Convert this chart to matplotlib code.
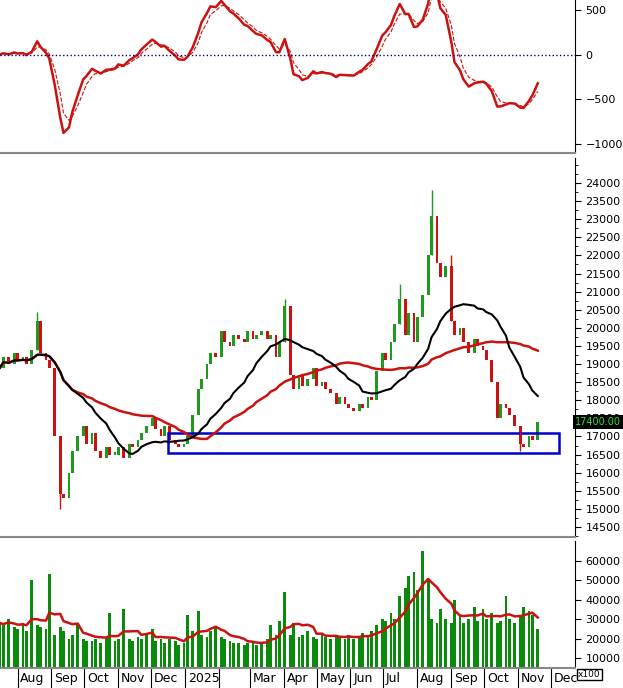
import numpy as np, pandas as pd
import matplotlib
matplotlib.use("Agg")
import matplotlib.pyplot as plt
import matplotlib.dates as mdates
import matplotlib.transforms as mtr
from matplotlib.patches import Rectangle

closes = [18900,19200,19000,19300,19100, 19200,19000,19400,20200,19300,
 19100,18900,17000,15400,15300, 16000,16600,17000,17300,16800,
 17100,16600,16400,16700,16500, 16500,16700,16400,16800,16700,
 16900,17100,17300,17500,17200, 17000,17300,16900,16800,16700,
 16800,17000,17600,18300,18600, 19000,19300,19200,19900,19600,
 19500,19800,19700,19600,19900, 19700,19800,19900,19700,19800,
 19200,19600,20600,18700,18300, 18700,18400,18600,18900,18400,
 18500,18300,18200,17900,18100, 17900,17800,17700,17900,17800,
 18100,18000,18800,19300,19100, 19600,20100,20800,19800,20400,
 19600,20300,20900,22000,23100, 21800,21400,21700,20200,19800,
 20000,19600,19300,19700,19500, 19400,19100,18500,17500,17900,
 17800,17600,17300,16800,16700, 17000,16900,17400]
spike_idx = [8, 13, 62, 87, 94, 98, 113]
spike_hi = [20450, 15000, 20800, 21200, 23800, 22000, 16600]
volumes = [28000,27000,30000,26000,25000,28000,24000,50000,27000,26000,
 25000,53000,22000,26000,24000,20000,22000,27000,20000,19000,
 19000,20000,18000,21000,33000,19000,20000,35000,20000,19000,
 21000,20000,22000,25000,19000,20000,18000,20000,19000,17000,
 18000,32000,24000,34000,22000,21000,24000,26000,21000,20000,
 19000,18000,18000,17000,18000,19000,17000,18000,20000,27000,
 22000,29000,44000,22000,28000,21000,22000,24000,21000,20000,
 22000,21000,20000,22000,21000,20000,22000,20000,21000,23000,
 22000,24000,27000,30000,29000,33000,30000,42000,46000,52000,
 54000,45000,65000,50000,30000,28000,35000,30000,28000,40000,
 32000,28000,30000,36000,29000,35000,30000,33000,28000,29000,
 42000,30000,28000,31000,36000,34000,32000,25000]
month_labels = ["Aug","Sep","Oct","Nov","Dec","2025","","Mar","Apr","May","Jun","Jul","Aug","Sep","Oct","Nov","Dec"]

n = len(closes)
dates = pd.bdate_range("2024-07-16", periods=n, freq="3B")
s = pd.Series(closes, index=dates, dtype=float)
opens = s.shift(1).fillna(s.iloc[0])
ma_fast = s.rolling(17, min_periods=1).mean()
ma_slow = s.rolling(34, min_periods=1).mean()
macd = (s.ewm(span=5).mean() - s.ewm(span=10).mean())
sig = macd.ewm(span=3).mean()
vol = pd.Series(volumes, index=dates, dtype=float)
vma = vol.rolling(7, min_periods=1).mean()

GREEN = "#1f9a1f"; RED = "#cc1111"
fig = plt.figure(figsize=(6.23, 6.88), dpi=100)
L, W = 0.0, 575/623
ax1 = fig.add_axes([L, 1-153/688, W, 153/688])
ax2 = fig.add_axes([L, 1-537/688, W, (537-158)/688])
ax3 = fig.add_axes([L, 1-668/688, W, (668-541)/688])
xmin, xmax = pd.Timestamp("2024-07-16"), pd.Timestamp("2025-12-23")
for ax in (ax1, ax2, ax3):
    ax.set_xlim(xmin, xmax)
    ax.yaxis.tick_right()
    ax.tick_params(axis="y", labelsize=8, direction="out", length=4)
    for sp in ("left", "top"):
        ax.spines[sp].set_visible(False)
    ax.spines["bottom"].set_color("#888888"); ax.spines["bottom"].set_linewidth(1.5)

ax1.plot(dates, macd, color=RED, lw=1.8)
ax1.plot(dates, sig, color=RED, lw=0.8, ls="--")
ax1.axhline(0, color="#000080", ls=":", lw=1)
ax1.set_ylim(-1100, 611)
ax1.set_yticks([500, 0, -500, -1000])
ax1.set_xticks([])

w = 2.6
for i, (d, o, c) in enumerate(zip(dates, opens, s)):
    col = GREEN if c >= o else RED
    lo, hi = min(o, c), max(o, c)
    if hi - lo < 60:
        hi = lo + 60
    ax2.bar(d, hi - lo, bottom=lo, width=w, color=col, linewidth=0)
for i, h in zip(spike_idx, spike_hi):
    c = s.iloc[i]; o = opens.iloc[i]
    col = GREEN if c >= o else RED
    ax2.vlines(dates[i], min(o, c, h), max(o, c, h), color=col, lw=1)
ax2.plot(dates, ma_slow, color=RED, lw=1.8)
ax2.plot(dates, ma_fast, color="black", lw=1.5)
x0 = mdates.date2num(pd.Timestamp("2024-12-16")); x1 = mdates.date2num(pd.Timestamp("2025-12-08"))
ax2.add_patch(Rectangle((x0, 16540), x1 - x0, 560, fill=False, edgecolor="#0000cc", lw=1.8, clip_on=False))
ax2.set_ylim(14224, 24690)
ax2.set_yticks(np.arange(14500, 24001, 500))
ax2.set_yticks(np.arange(14250, 24600, 250), minor=True)
ax2.tick_params(axis="y", which="minor", length=2)
ax2.set_xticks([])
ax2.text(1.0, (17400-14224)/(24690-14224), "17400.00", transform=ax2.transAxes,
         color="#33dd33", fontsize=7, va="center", ha="left",
         bbox=dict(facecolor="black", edgecolor="none", pad=1.2))

ax3.bar(dates, vol, width=w, color="#0a8a0a", linewidth=0)
ax3.plot(dates, vma, color=RED, lw=1.8)
ax3.set_ylim(5000, 70000)
ax3.set_yticks([10000, 20000, 30000, 40000, 50000, 60000])
ax3.text(1.005, -0.07, "x100", transform=ax3.transAxes, fontsize=6.5,
         bbox=dict(facecolor="white", edgecolor="black", pad=1))
mt = pd.date_range("2024-08-01", "2025-12-01", freq="MS")
ax3.set_xticks(mt)
ax3.set_xticklabels(month_labels, ha="left")
ax3.tick_params(axis="x", direction="out", length=16, labelsize=9, pad=-13)
off = mtr.ScaledTranslation(2/72, 0, fig.dpi_scale_trans)
for lab in ax3.get_xticklabels():
    lab.set_transform(lab.get_transform() + off)
fig.savefig("out.png", dpi=100)
